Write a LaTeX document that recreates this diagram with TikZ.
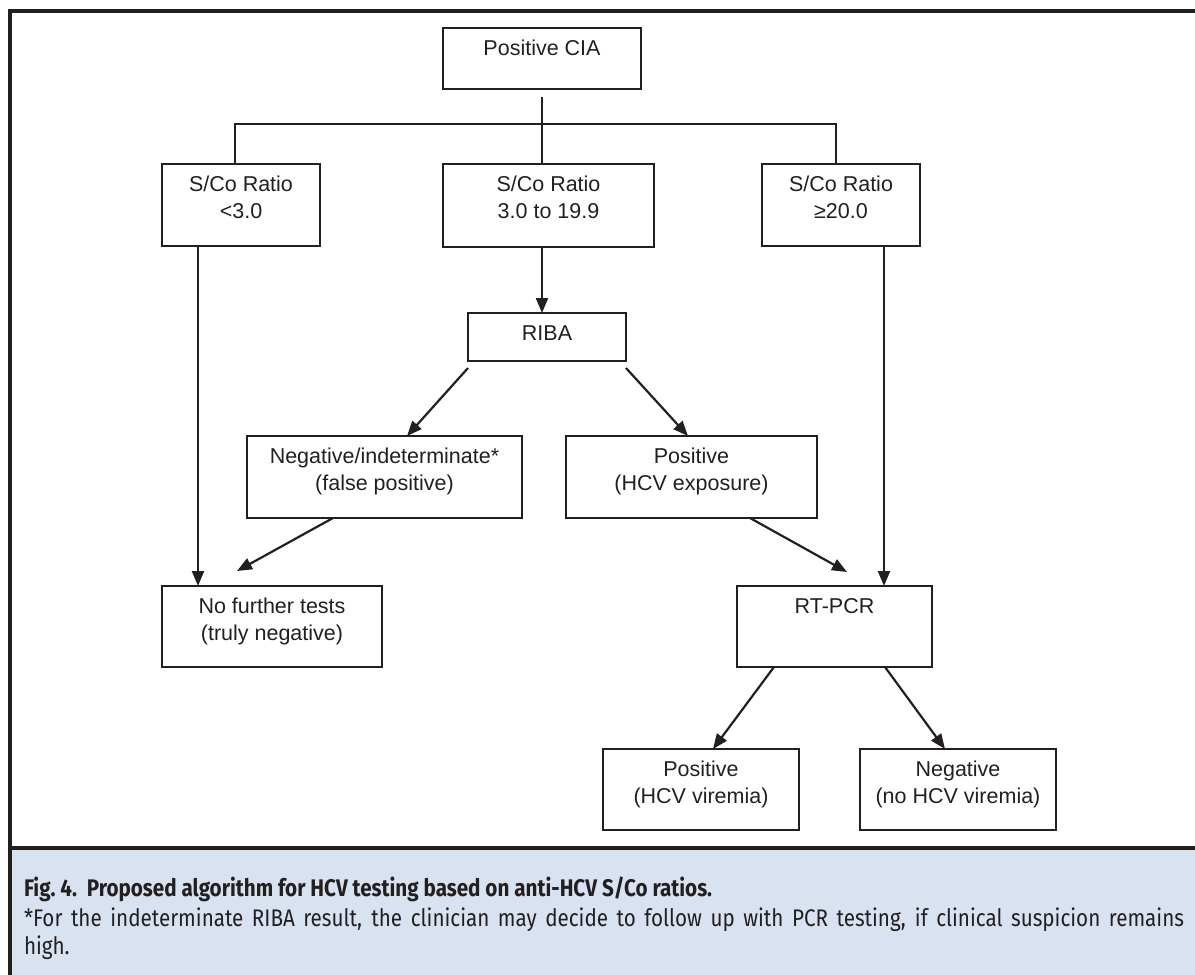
\documentclass[tikz,border=0pt]{standalone}
\usepackage{fontspec}
\setmainfont{Liberation Sans}
\newfontfamily\capfont[FakeStretch=0.86]{Fira Sans}
\usetikzlibrary{arrows.meta,calc}
\definecolor{ink}{HTML}{231F20}
\definecolor{capbg}{HTML}{D9E2F0}
\newcommand{\bxt}[3]{\parbox[t][#2][t]{#1}{\centering\rule{0pt}{27.5pt}#3}}
\begin{document}
\begin{tikzpicture}[x=1pt,y=-1pt,
  every node/.style={inner sep=0pt, outer sep=0pt, text=ink},
  box/.style={draw=ink, line width=1.5pt, font=\fontsize{21.5}{27}\selectfont},
  conn/.style={draw=ink, line width=2.2pt},
  arr/.style={conn, -{Triangle[length=15pt,width=12pt]}},
  frame/.style={draw=ink, line width=3.5pt},
  capline/.style={anchor=base west, font=\capfont\fontsize{24}{29}\selectfont}
]
\useasboundingbox (0,0) rectangle (1195,975);
\fill[capbg] (10,848) rectangle (1195,975);
\draw[frame] (1195,11) -- (10,11) -- (10,975);
\draw[frame] (10,848) -- (1195,848);

\node[box] (cia) at (542,58.5) {\bxt{198pt}{61pt}{Positive CIA}};
\node[box] (r1) at (241,205) {\bxt{158pt}{82pt}{S/Co Ratio\\<3.0}};
\node[box] (r2) at (548.5,205.5) {\bxt{211pt}{83pt}{S/Co Ratio\\3.0 to 19.9}};
\node[box] (r3) at (841,205) {\bxt{158pt}{82pt}{S/Co Ratio\\≥20.0}};
\node[box] (riba) at (547,337) {\bxt{158pt}{48pt}{RIBA}};
\node[box] (neg) at (384.5,477) {\bxt{275pt}{82pt}{Negative/indeterminate*\\(false positive)}};
\node[box] (pos) at (691.5,477) {\bxt{251pt}{82pt}{Positive\\(HCV exposure)}};
\node[box] (nft) at (272,626.5) {\bxt{220pt}{81pt}{No further tests\\(truly negative)}};
\node[box] (rt) at (834.5,626.5) {\bxt{195pt}{81pt}{RT-PCR}};
\node[box] (pv) at (701,789.5) {\bxt{196pt}{81pt}{Positive\\(HCV viremia)}};
\node[box] (nv) at (958,789.5) {\bxt{196pt}{81pt}{Negative\\(no HCV viremia)}};

% tree from Positive CIA
\coordinate (hb) at (542,124);
\draw[conn] ([yshift=-8pt]cia.south) -- (cia.south |- r2.north);
\draw[conn] ([xshift=-6pt]r1.north) |- (hb) -| ([xshift=-5pt]r3.north);

% arrows
\draw[arr] ([xshift=-43pt]r1.south) -- ([xshift=-43pt]r1.south |- nft.north);
\draw[arr] (cia.south |- r2.south) -- (cia.south |- riba.north);
\draw[arr] ([xshift=43pt]r3.south) -- ([xshift=43pt]r3.south |- rt.north);
\draw[arr] ([yshift=-7pt]riba.south west) -- ([xshift=22.5pt]neg.north);
\draw[arr] ([yshift=-7pt]riba.south east) -- ([xshift=-3.5pt]pos.north);
\draw[arr] ([xshift=-51.5pt]neg.south) -- ([xshift=-35pt,yshift=15pt]nft.north);
\draw[arr] ([xshift=58.5pt]pos.south) -- ([xshift=12.5pt,yshift=14pt]rt.north);
\draw[arr] ([xshift=-60.5pt]rt.south) -- ([xshift=12pt]pv.north);
\draw[arr] ([xshift=50.5pt]rt.south) -- ([xshift=-13pt]nv.north);

% caption
\node[capline] (cap1) at (24,896)
  {\bfseries Fig.~4.\ \ Proposed algorithm for HCV testing based on anti-HCV S/Co ratios.};
\node[capline] (cap2) at (24,926)
  {\makebox[1160pt][s]{*For the indeterminate RIBA result, the clinician may decide to follow up with PCR testing, if clinical suspicion remains}};
\node[capline] (cap3) at (24,954) {high.};
\end{tikzpicture}
\end{document}
